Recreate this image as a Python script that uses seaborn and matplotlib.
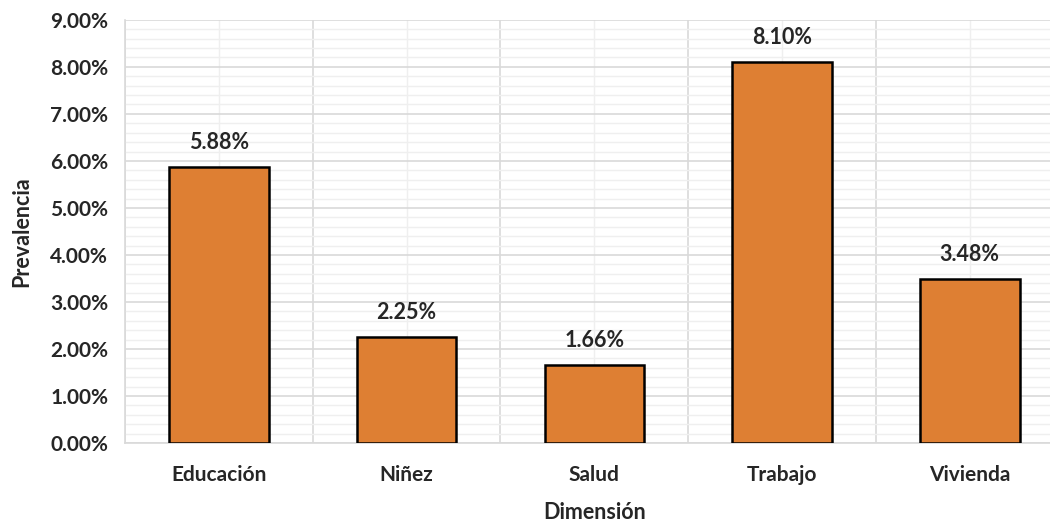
import matplotlib
matplotlib.use("Agg")
import matplotlib.pyplot as plt
import seaborn as sns
import pandas as pd
import numpy as np
from matplotlib.ticker import MultipleLocator, FixedLocator, PercentFormatter

categories = ["Educación", "Niñez", "Salud", "Trabajo", "Vivienda"]
values = [5.88, 2.25, 1.66, 8.10, 3.48]
labels = ["5.88%", "2.25%", "1.66%", "8.10%", "3.48%"]

sns.set_theme(style="white")
plt.rcParams['font.family'] = ['Lato', 'DejaVu Sans']
plt.rcParams['font.weight'] = 'bold'

df = pd.DataFrame({"Dimensión": categories, "Prevalencia": values})

fig = plt.figure(figsize=(10.5, 5.23), dpi=100)
ax = fig.add_axes([0.119, 0.153, 0.894, 0.809])

sns.barplot(data=df, x="Dimensión", y="Prevalencia", color="#DE7F33",
            width=0.53, edgecolor="black", linewidth=1.8, ax=ax, zorder=3,
            saturation=1)

ax.set_ylim(0, 9)
ax.set_xlim(-0.5, len(categories) - 0.5)
ax.yaxis.set_major_locator(MultipleLocator(1))
ax.yaxis.set_minor_locator(MultipleLocator(0.2))
ax.yaxis.set_major_formatter(PercentFormatter(decimals=2))
ax.xaxis.set_major_locator(FixedLocator(range(len(categories))))
ax.set_xticklabels(categories)
ax.xaxis.set_minor_locator(FixedLocator(np.arange(-0.5, len(categories), 1.0)))

ax.grid(which="major", axis="y", color="#d9d9d9", linewidth=1.2, zorder=0)
ax.grid(which="minor", axis="y", color="#efefef", linewidth=1.0, zorder=0)
ax.grid(which="minor", axis="x", color="#d9d9d9", linewidth=1.2, zorder=0)
ax.grid(which="major", axis="x", color="#efefef", linewidth=1.0, zorder=0)
ax.set_axisbelow(True)

for s in ["top", "right"]:
    ax.spines[s].set_visible(False)
for s in ["left", "bottom"]:
    ax.spines[s].set_color("#d9d9d9")
    ax.spines[s].set_linewidth(1.2)

ax.tick_params(axis="both", which="both", length=0, labelsize=15)
ax.tick_params(axis="x", pad=16)
ax.tick_params(axis="y", pad=12)
for t in ax.get_xticklabels() + ax.get_yticklabels():
    t.set_fontweight("bold")

for i, (v, lab) in enumerate(zip(values, labels)):
    ax.annotate(lab, xy=(i, v), xytext=(0, 10), textcoords="offset points",
                ha="center", va="bottom", fontsize=15.5, fontweight="bold")

ax.set_xlabel("Dimensión", fontsize=15.5, fontweight="bold", labelpad=12)
ax.set_ylabel("Prevalencia", fontsize=15.5, fontweight="bold", labelpad=13)

fig.savefig("out.png", dpi=100)
